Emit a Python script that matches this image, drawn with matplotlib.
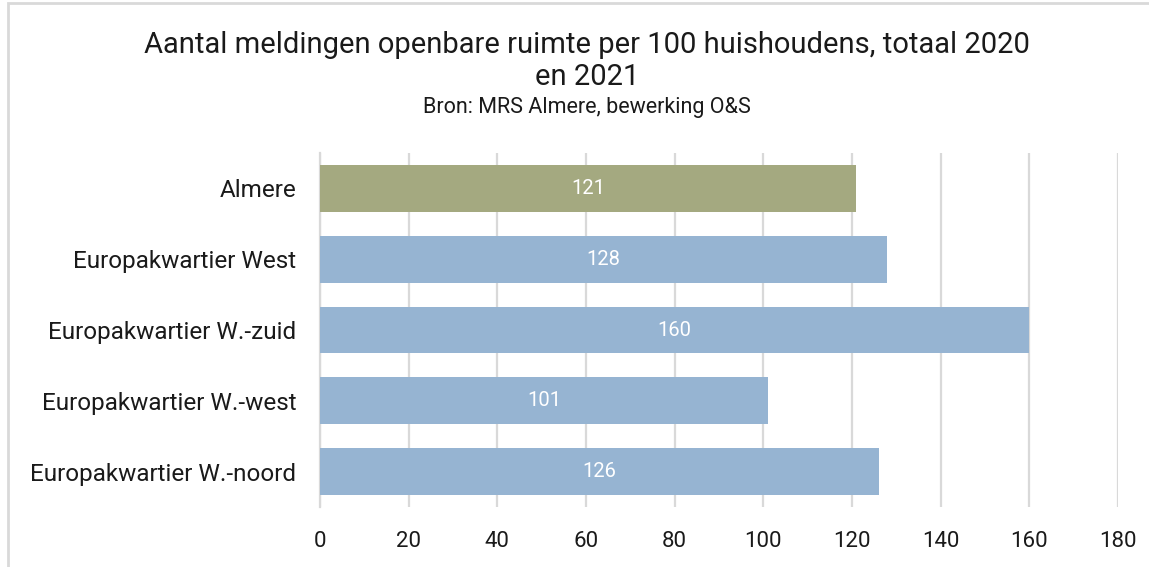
import matplotlib
matplotlib.use("Agg")
import matplotlib.pyplot as plt
from matplotlib.patches import Rectangle

categories = [
    "Almere",
    "Europakwartier West",
    "Europakwartier W.-zuid",
    "Europakwartier W.-west",
    "Europakwartier W.-noord",
]
values = [121, 128, 160, 101, 126]
bar_colors = ["#a4a980", "#96b4d2", "#96b4d2", "#96b4d2", "#96b4d2"]
x_ticks = [0, 20, 40, 60, 80, 100, 120, 140, 160, 180]

title_lines = ["Aantal meldingen openbare ruimte per 100 huishoudens, totaal 2020", "en 2021"]
subtitle = "Bron: MRS Almere, bewerking O&S"

plt.rcParams["font.family"] = ["Roboto", "DejaVu Sans"]

W, H = 1149, 567
fig = plt.figure(figsize=(W / 100, H / 100), dpi=100)
fig.patch.set_facecolor("white")

# light frame around the chart area
fig.patches.append(Rectangle((8 / W, -0.05), 1.2, (H - 3) / H + 0.05,
                             transform=fig.transFigure, fill=False,
                             edgecolor="#d9d9d9", linewidth=2))

ax = fig.add_axes([320 / W, 1 - 507 / H, (1118 - 320) / W, (507 - 153) / H])
y = list(range(len(categories)))
bars = ax.barh(y, values, height=0.66, color=bar_colors, zorder=3)

for b, v in zip(bars, values):
    ax.text(b.get_x() + b.get_width() / 2, b.get_y() + b.get_height() / 2,
            str(v), ha="center", va="center", color="white", fontsize=14.5,
            zorder=4)

ax.set_xlim(0, 180)
ax.set_ylim(len(categories) - 0.5, -0.5)
ax.set_xticks(x_ticks)
ax.set_xticklabels([str(t) for t in x_ticks], fontsize=16, color="#1a1a1a")
ax.set_yticks(y)
ax.set_yticklabels(categories, fontsize=17.5, color="#1a1a1a")
ax.tick_params(axis="both", length=0)
ax.tick_params(axis="x", pad=17)
ax.tick_params(axis="y", pad=17)

ax.grid(axis="x", color="#d9d9d9", linewidth=1.6, zorder=0)
for s in ["top", "right", "bottom"]:
    ax.spines[s].set_visible(False)
ax.spines["left"].set_color("#d9d9d9")
ax.spines["left"].set_linewidth(1.6)

fig.text(587 / W, 1 - 45 / H, title_lines[0], ha="center", va="center",
         fontsize=21, color="#1a1a1a")
fig.text(587 / W, 1 - 77 / H, title_lines[1], ha="center", va="center",
         fontsize=21, color="#1a1a1a")
fig.text(587 / W, 1 - 108 / H, subtitle, ha="center", va="center",
         fontsize=15.5, color="#1a1a1a")

fig.savefig("out.png", dpi=100)
